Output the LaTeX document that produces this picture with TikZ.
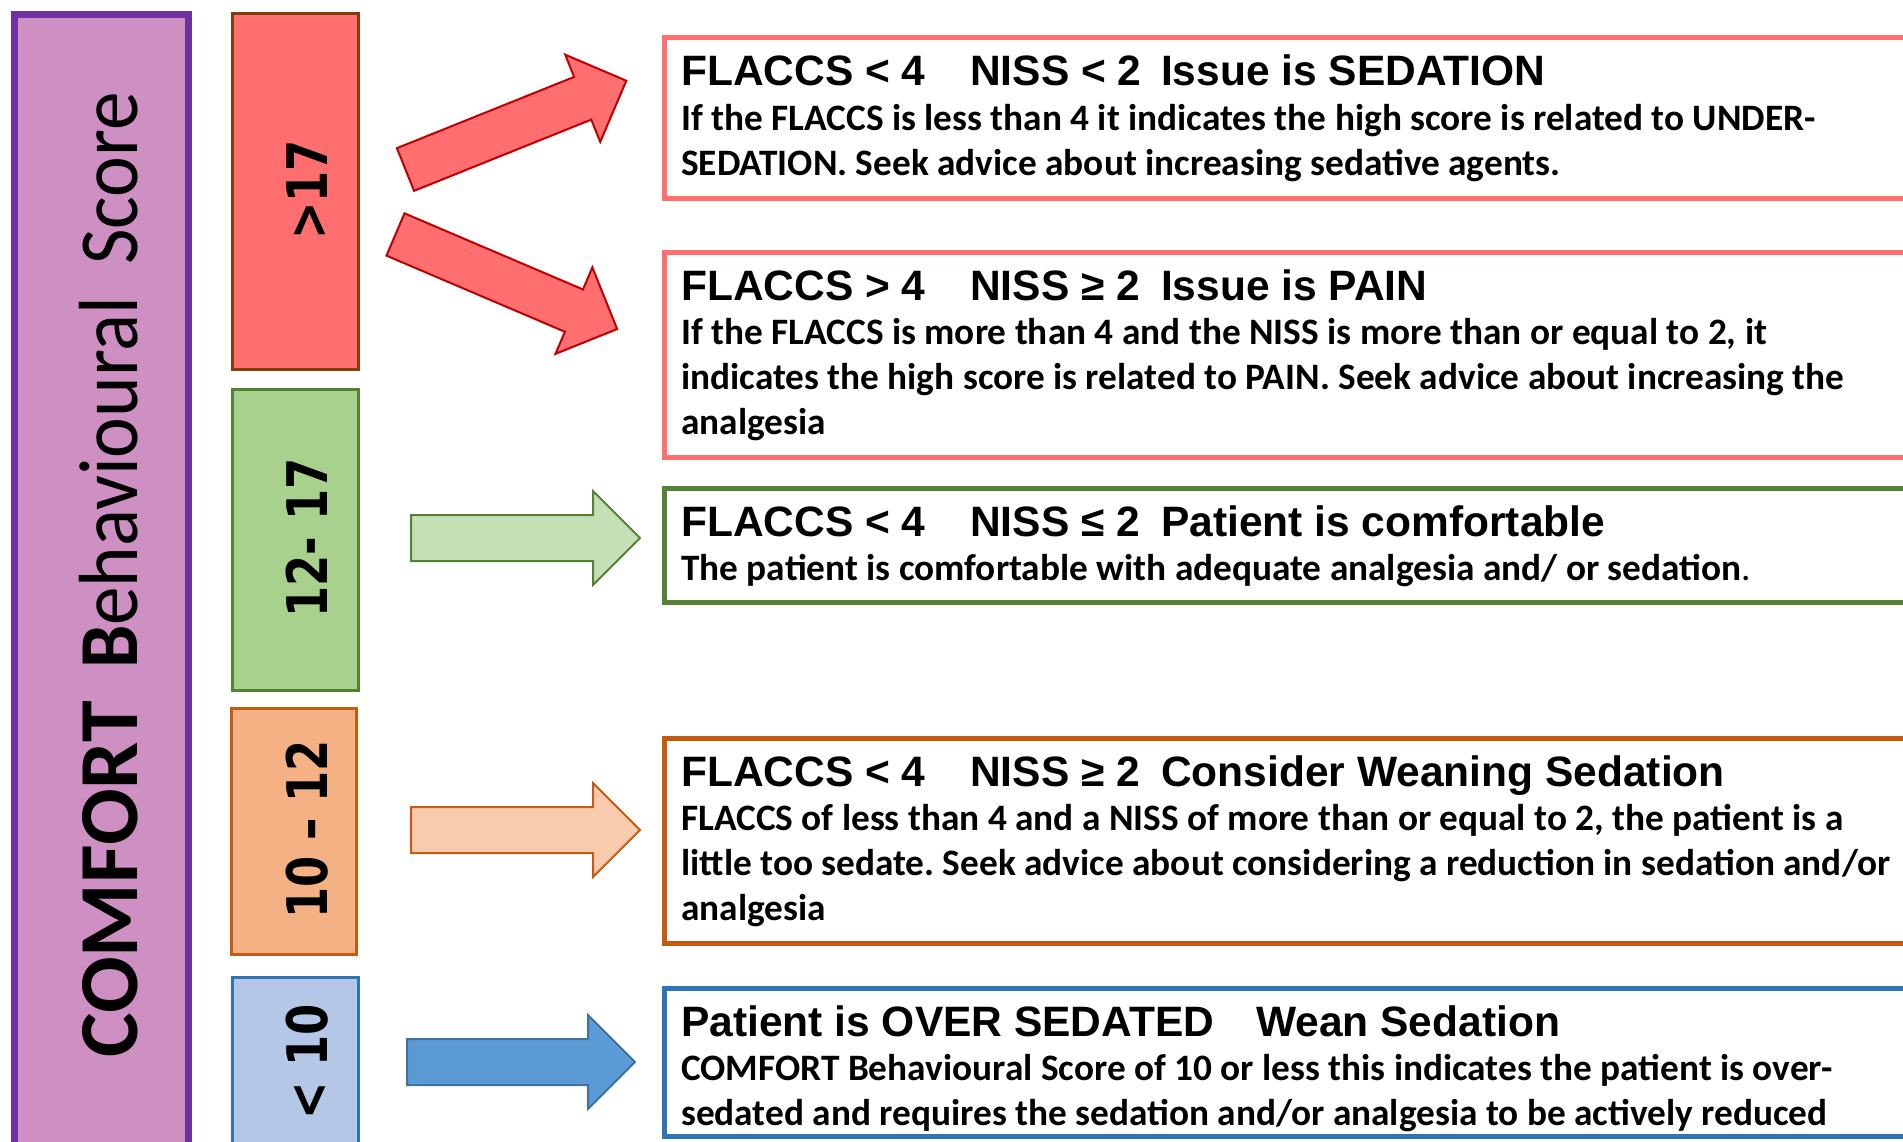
\documentclass[tikz,border=0pt]{standalone}
\usepackage{fontspec}
\setmainfont{Carlito}
\newfontfamily\headfont{Liberation Sans}
\newfontfamily\rangefont[FakeStretch=0.8]{DejaVu Sans}
\newfontfamily\titlefont[FakeStretch=0.92]{Carlito}
\usetikzlibrary{arrows.meta,positioning,calc}
\frenchspacing
\definecolor{barpurple}{HTML}{7030A0}
\definecolor{barfill}{HTML}{CE8FC2}
\definecolor{highfill}{HTML}{FF6F6F}
\definecolor{highline}{HTML}{843C0C}
\definecolor{redarrowline}{HTML}{C00000}
\definecolor{okfill}{HTML}{A9D18E}
\definecolor{okline}{HTML}{548235}
\definecolor{okarrow}{HTML}{C5E0B4}
\definecolor{lowfill}{HTML}{F4B183}
\definecolor{lowline}{HTML}{C55A11}
\definecolor{lowarrow}{HTML}{F8CBAD}
\definecolor{sedfill}{HTML}{B4C7E7}
\definecolor{sedline}{HTML}{2E75B6}
\definecolor{sedarrow}{HTML}{5B9BD5}
\definecolor{sedarrowline}{HTML}{41719C}
\newcommand{\flaccs}[1]{\makebox[289pt][l]{#1}}
\newcommand{\niss}[1]{\makebox[191pt][l]{#1}}
\tikzset{scorebar/.style={rectangle,draw=barpurple,fill=barfill,line width=7pt,inner sep=0pt,anchor=north west},rangebox/.style={rectangle,draw,line width=3pt,inner sep=0pt,anchor=north west,minimum width=126pt},rangelabel/.style={rotate=90,anchor=base,inner sep=0pt,font=\rangefont\bfseries\fontsize{56}{60}\selectfont},title/.style={rotate=90,anchor=base west,inner sep=0pt,font=\fontsize{84}{90}\selectfont},advicebox/.style={rectangle,draw,fill=white,line width=5pt,inner sep=0pt,anchor=north west,minimum width=1300pt},headline/.style={anchor=base west,inner sep=0pt,font=\headfont\bfseries\fontsize{42.5}{46}\selectfont},advice/.style={anchor=north west,inner sep=0pt,align=left,font=\bfseries\fontsize{37.3}{45}\selectfont},pics/blockarrow/.style={code={\draw[pic actions] (0,-23)--(#1-47,-23)--(#1-47,-47)--(#1,0)--(#1-47,47)--(#1-47,23)--(0,23)--cycle;}},every picture/.style={line join=miter}}

\begin{document}
\begin{tikzpicture}[x=1pt,y=-1pt]
\useasboundingbox (0,0) rectangle (1903,1142);
\clip (0,0) rectangle (1903,1142);
% score column
\node[scorebar,minimum width=174pt,minimum height=1189pt] (bar) at (10.5,11.5) {};
\node[title] (title) at (137,1058) {\textbf{COMFORT}\hspace{32pt}\titlefont\textbf{B}ehavioural\hspace{32pt}Score};
\node[rangebox,draw=highline,fill=highfill,minimum height=355pt] (high) at (230.5,12.5) {};
\node[rangebox,draw=okline,fill=okfill,minimum height=301pt] (ok) at (230.5,387.5) {};
\node[rangebox,draw=lowline,fill=lowfill,minimum width=125pt,minimum height=246pt] (low) at (229.5,706.5) {};
\node[rangebox,draw=sedline,fill=sedfill,minimum height=230pt] (over) at (230.5,975.5) {};
\node[rangelabel] (highlbl) at (327,190) {>17};
\node[rangelabel] (oklbl) at (327,538) {12- 17};
\node[rangelabel] (lowlbl) at (327,829.5) {10 – 12};
\node[rangelabel] (overlbl) at (327,1062) {< 10};
% arrows
\pic[draw=redarrowline,fill=highfill,line width=2pt,rotate=21.9] at (405.5,169.5) {blockarrow=238};
\pic[draw=redarrowline,fill=highfill,line width=2pt,rotate=-23.1] at (395.5,234.5) {blockarrow=241};
\pic[draw=okline,fill=okarrow,line width=2pt] at (411,538) {blockarrow=229};
\pic[draw=lowline,fill=lowarrow,line width=2pt] at (411,830) {blockarrow=229};
\pic[draw=sedarrowline,fill=sedarrow,line width=2pt] at (407,1062) {blockarrow=228};
% advice boxes
\node[advicebox,draw=highfill,minimum height=161pt] (sedation) at (661.5,35.5) {};
\node[advicebox,draw=highfill,minimum height=205pt] (pain) at (661.5,249.5) {};
\node[advicebox,draw=okline,minimum height=114pt] (comfortable) at (661.5,485.5) {};
\node[advicebox,draw=lowline,minimum height=205pt] (weaning) at (661.5,735.5) {};
\node[advicebox,draw=sedline,minimum height=148pt] (oversedated) at (661.5,985.5) {};
\node[headline] (sedhead) at (681,86) {\flaccs{FLACCS < 4}\niss{NISS < 2}Issue is SEDATION};
\node[advice] (sedtext) at (681,98.5) {\strut If the FLACCS is less than 4 it indicates the high score is related to UNDER-\\SEDATION. Seek advice about increasing sedative agents.};
\node[headline] (painhead) at (681,300) {\flaccs{FLACCS > 4}\niss{NISS ≥ 2}Issue is PAIN};
\node[advice] (paintext) at (681,312.5) {\strut If the FLACCS is more than 4 and the NISS is more than or equal to 2, it\\indicates the high score is related to PAIN. Seek advice about increasing the\\analgesia};
\node[headline] (comfhead) at (681,536) {\flaccs{FLACCS < 4}\niss{NISS ≤ 2}Patient is comfortable};
\node[advice] (comftext) at (681,548.5) {\strut The patient is comfortable with adequate analgesia and/ or sedation\textmd{.}};
\node[headline] (weanhead) at (681,786) {\flaccs{FLACCS < 4}\niss{NISS ≥ 2}Consider Weaning Sedation};
\node[advice] (weantext) at (681,798.5) {\strut FLACCS of less than 4 and a NISS of more than or equal to 2, the patient is a\\little too sedate. Seek advice about considering a reduction in sedation and/or\\analgesia};
\node[headline] (overhead) at (681,1036) {\makebox[575pt][l]{Patient is OVER SEDATED}Wean Sedation};
\node[advice] (overtext) at (681,1048.5) {\strut COMFORT Behavioural Score of 10 or less this indicates the patient is over-\\sedated and requires the sedation and/or analgesia to be actively reduced};
\end{tikzpicture}
\end{document}
